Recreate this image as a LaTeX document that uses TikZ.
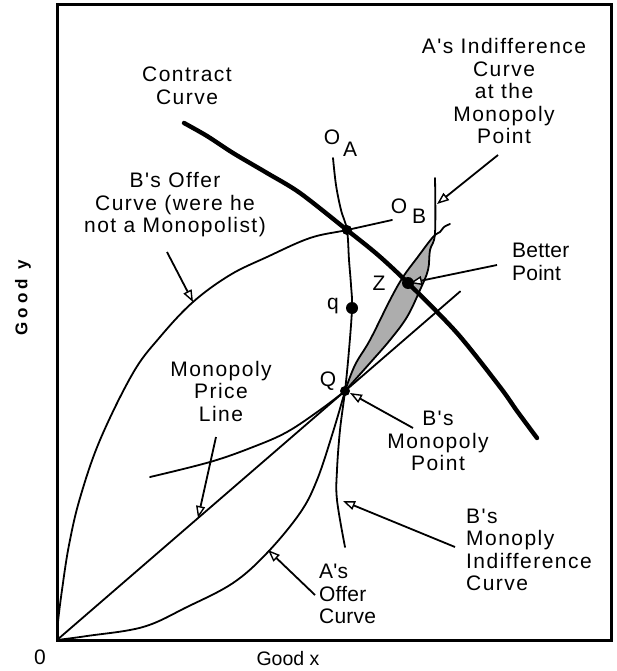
\documentclass[tikz,border=0pt]{standalone}
\usepackage{fontspec}
\setmainfont{Liberation Sans}
\newfontfamily\widefont[LetterSpace=7]{Liberation Sans}
\newfontfamily\midfont[LetterSpace=1]{Liberation Sans}
\newfontfamily\axisfont[LetterSpace=25]{Liberation Sans}
\usetikzlibrary{arrows.meta,calc}
\tikzset{
  curve/.style={line width=1.8pt,line cap=round,line join=round},
  contract/.style={line width=4.4pt,line cap=round,line join=round},
  callout/.style={line width=1.8pt,-{Triangle[length=12pt,width=9pt,fill=white,line width=1.4pt]}},
  lbl/.style={font=\widefont\fontsize{21}{22.5}\selectfont,align=center,inner sep=0pt},
  lblmid/.style={font=\midfont\fontsize{21}{22.5}\selectfont,align=left,inner sep=0pt},
  sym/.style={font=\fontsize{21}{22}\selectfont,inner sep=0pt},
  dot/.style={circle,fill=black,inner sep=0pt,minimum size=#1},
  dot/.default=12pt
}
\begin{document}
\begin{tikzpicture}[x=1pt,y=-1pt]
\useasboundingbox (0,0) rectangle (616,671);
\coordinate (O) at (57,640);
\coordinate (Q) at (345,391);
\coordinate (E) at (347,230);
\draw[line width=3pt] (57,5) rectangle (611,640);
\node[sym] (zero) at (40,657) {0};
\node[sym,font=\fontsize{19.5}{22}\selectfont] (goodx) at (288,659) {Good x};
\node[sym,rotate=90,font=\axisfont\bfseries\fontsize{17}{20}\selectfont] (goody) at (23,298) {Good y};
\fill[black!32] plot[smooth,tension=0.6] coordinates {(345,391) (355,365) (370,340) (390,300) (403,277) (417,258) (435,234)}
  -- plot[smooth,tension=0.6] coordinates {(435,234) (430,250) (428,270) (420,290) (407,317) (390,340) (370,363) (345,391)} -- cycle;
\draw[curve] plot[smooth,tension=0.6] coordinates {(57,640) (58,622) (62,590) (69,545) (80,498) (100,440) (133,373) (160,337) (193,302) (230,275) (267,257) (310,238) (347,230) (392,220)};
\draw[curve] plot[smooth,tension=0.6] coordinates {(57,640) (87,636) (143,627) (187,607) (233,583) (267,553) (300,513) (317,480) (333,432) (345,391)};
\draw[curve] (O) -- ($(O)!1.4!(Q)$);
\draw[curve] plot[smooth,tension=0.6] coordinates {(150,477) (210,462) (253,447) (287,432) (320,410) (345,391)};
\draw[curve] plot[smooth,tension=0.6] coordinates {(345,391) (355,365) (370,340) (390,300) (403,277) (417,258) (433,237) (440,232) (444,227) (450,224)};
\draw[curve] plot[smooth,tension=0.6] coordinates {(435,178) (435,233) (430,250) (428,270) (420,290) (407,317) (390,340) (370,363) (345,391)};
\draw[curve] plot[smooth,tension=0.6] coordinates {(333,158) (336,185) (341,210) (347,230) (349,260) (351,285) (352,308) (349,350) (345,391) (340,430) (337,470) (337,500) (345,547)};
\draw[contract] plot[smooth,tension=0.5] coordinates {(184,123) (207,136) (233,153) (267,173) (300,193) (347,230) (378,255) (408,283) (457,333) (500,387) (517,411) (537,438)};
\node[dot=10pt] (e) at (E) {};
\node[dot] (qdot) at (352,308) {};
\node[dot] (zdot) at (408,283) {};
\node[dot=10pt] (Qdot) at (Q) {};
\node[sym] (OA) at (332,137) {O};
\node[sym] (OAsub) at (350,149) {A};
\node[sym] (OB) at (399,206) {O};
\node[sym] (OBsub) at (419,216) {B};
\node[sym] (qlab) at (333,306) {q};
\node[sym] (Qlab) at (328,381) {Q};
\node[sym] (Zlab) at (379,283) {Z};
\node[lbl] (ccurve) at (187,86) {Contract\\Curve};
\node[lbl] (boffer) at (175,205) {B's Offer\\Curve (were he\\not a Monopolist)};
\node[lbl] (aindiff) at (504,91) {A's Indifference\\Curve\\at the\\Monopoly\\Point};
\node[lblmid,anchor=west] (better) at (512,262) {Better\\Point};
\node[lbl] (mline) at (221,391) {Monopoly\\Price\\Line};
\node[lbl] (bmpoint) at (438,441) {B's\\Monopoly\\Point};
\node[lbl,align=left,anchor=west] (bmindiff) at (466,550) {B's\\Monoply\\Indifference\\Curve};
\node[lblmid,anchor=west] (aoffer) at (319,594) {A's\\Offer\\Curve};
\coordinate (t1) at (167,252); \coordinate (h1) at (193,302);
\coordinate (t2) at (216,437); \coordinate (h2) at (198,518);
\coordinate (t3) at (315,595); \coordinate (h3) at (268,550);
\coordinate (t4) at (413,428); \coordinate (h4) at (350,393);
\coordinate (t5) at (455,547); \coordinate (h5) at (343,501);
\coordinate (t6) at (497,265); \coordinate (h6) at (410,283);
\coordinate (t7) at (498,155); \coordinate (h7) at (437,204);
\foreach \i in {1,...,7} \draw[callout] (t\i) -- (h\i);
\end{tikzpicture}
\end{document}
